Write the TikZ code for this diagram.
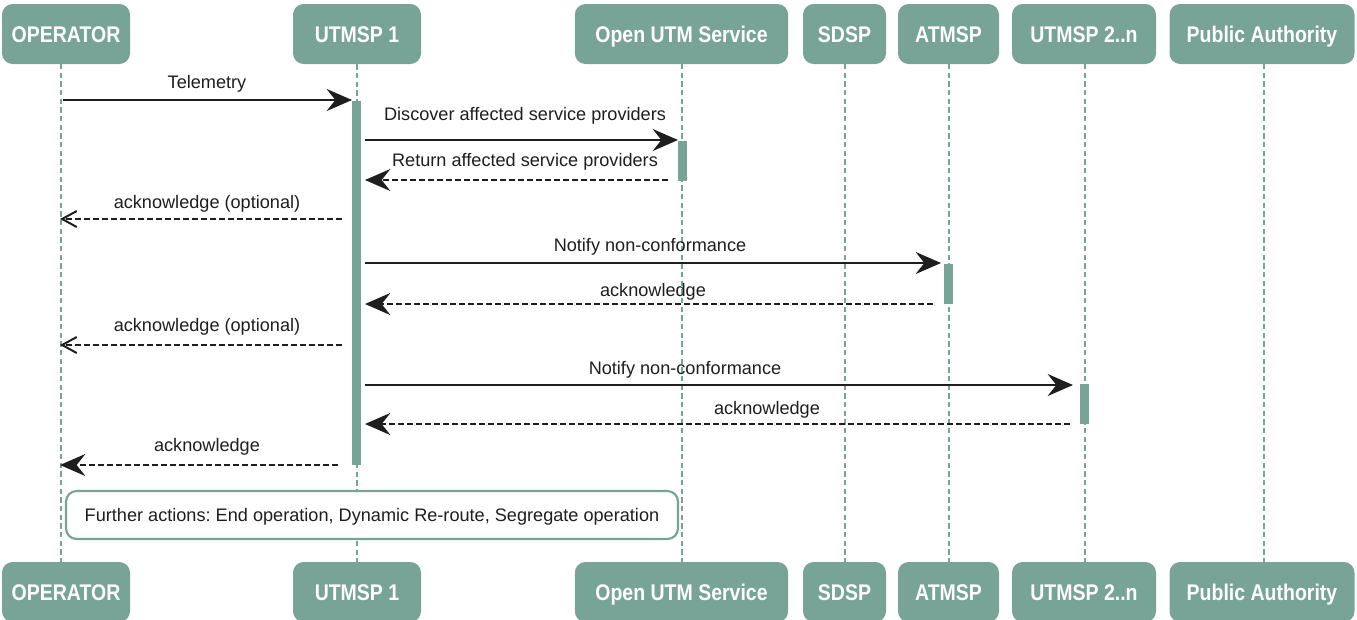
\documentclass[tikz,border=0pt]{standalone}
\usepackage{fontspec}
\setmainfont{Liberation Sans}
\newfontfamily\hdrfont[FakeStretch=0.86]{Liberation Sans}
\usetikzlibrary{arrows.meta}
\definecolor{sage}{RGB}{120,164,151}
\definecolor{ink}{RGB}{30,30,30}
\begin{document}
\frenchspacing
\begin{tikzpicture}[x=0.75pt,y=-0.75pt,
  actor/.style={fill=sage, rounded corners=8pt, text=white, inner sep=0pt,
    minimum height=45pt, text height=12pt, text depth=0pt,
    font=\hdrfont\bfseries\fontsize{17}{20}\selectfont},
  lifeline/.style={sage, line width=1.6pt, dash pattern=on 4pt off 2.5pt},
  actbar/.style={fill=sage, draw=none, minimum width=6.75pt, inner sep=0pt},
  msg/.style={ink, line width=1.5pt, -{Stealth[length=19pt,width=16.5pt,inset=6.5pt]}},
  reply/.style={msg, dash pattern=on 4.5pt off 2.25pt},
  optreply/.style={ink, line width=1.5pt, dash pattern=on 4.5pt off 2.25pt,
    -{Straight Barb[length=11pt,width=12pt,line width=1.5pt]}},
  lbl/.style={text=ink, inner sep=0pt, anchor=base, font=\fontsize{13.6}{16}\selectfont},
  notebox/.style={draw=sage, line width=1.6pt, fill=white, rounded corners=8pt,
    inner sep=0pt, text height=10pt, text depth=0pt,
    font=\fontsize{13.6}{16}\selectfont, text=ink}]

\useasboundingbox (0,0) rectangle (1357,619);

% participant heads
\node[actor, minimum width=96pt]    (opT)  at (66,34)    {OPERATOR};
\node[actor, minimum width=96pt]    (u1T)  at (357,34)   {UTMSP 1};
\node[actor, minimum width=160pt]   (ouT)  at (681.5,34) {Open UTM Service};
\node[actor, minimum width=62.25pt] (sdT)  at (844.5,34) {SDSP};
\node[actor, minimum width=75.75pt] (atT)  at (948.5,34) {ATMSP};
\node[actor, minimum width=108pt]   (u2T)  at (1084,34)  {UTMSP 2..n};
\node[actor, minimum width=138.75pt](paT)  at (1262,34)  {Public Authority};

% participant feet
\node[actor, minimum width=96pt]    (opB)  at (66,592)    {OPERATOR};
\node[actor, minimum width=96pt]    (u1B)  at (357,592)   {UTMSP 1};
\node[actor, minimum width=160pt]   (ouB)  at (681.5,592) {Open UTM Service};
\node[actor, minimum width=62.25pt] (sdB)  at (844.5,592) {SDSP};
\node[actor, minimum width=75.75pt] (atB)  at (948.5,592) {ATMSP};
\node[actor, minimum width=108pt]   (u2B)  at (1084,592)  {UTMSP 2..n};
\node[actor, minimum width=138.75pt](paB)  at (1262,592)  {Public Authority};

% lifelines
\coordinate (opL1) at (61,64);  \coordinate (opL2) at (61,562);
\draw[lifeline] (opL1) -- (opL2);
\draw[lifeline] (u1T.south) -- (u1B.north);
\draw[lifeline] (682,64) -- (682,562);
\draw[lifeline] (845,64) -- (845,562);
\draw[lifeline] (949,64) -- (949,562);
\draw[lifeline] (1085,64) -- (1085,562);
\draw[lifeline] (1264,64) -- (1264,562);

% activation bars
\node[actbar, minimum height=273pt, anchor=north] (b1) at (356.5,101) {};
\node[actbar, minimum height=30pt,  anchor=north] (b2) at (682.5,141) {};
\node[actbar, minimum height=30pt,  anchor=north] (b3) at (948.5,264) {};
\node[actbar, minimum height=30pt,  anchor=north] (b4) at (1084.5,384) {};

% message end points
\coordinate (m1a) at (63,100);   \coordinate (m1b) at (352,100);
\coordinate (m2a) at (365,140);  \coordinate (m2b) at (678,140);
\coordinate (m3a) at (668,180);  \coordinate (m3b) at (365,180);
\coordinate (m4a) at (342,219);  \coordinate (m4b) at (60,219);
\coordinate (m5a) at (365,263);  \coordinate (m5b) at (941,263);
\coordinate (m6a) at (933,304);  \coordinate (m6b) at (365,304);
\coordinate (m7a) at (342,345);  \coordinate (m7b) at (60,345);
\coordinate (m8a) at (365,385);  \coordinate (m8b) at (1073,385);
\coordinate (m9a) at (1070,424); \coordinate (m9b) at (365,424);
\coordinate (m10a) at (338,465); \coordinate (m10b) at (60,465);

% messages
\draw[msg]      (m1a) -- (m1b);
\draw[msg]      (m2a) -- (m2b);
\draw[reply]    (m3a) -- (m3b);
\draw[optreply] (m4a) -- (m4b);
\draw[msg]      (m5a) -- (m5b);
\draw[reply]    (m6a) -- (m6b);
\draw[optreply] (m7a) -- (m7b);
\draw[msg]      (m8a) -- (m8b);
\draw[reply]    (m9a) -- (m9b);
\draw[reply]    (m10a) -- (m10b);

% message labels (placed on their baselines)
\node[lbl] (t1)  at (207,88)  {Telemetry};
\node[lbl] (t2)  at (525,120) {Discover affected service providers};
\node[lbl] (t3)  at (525,166) {Return affected service providers};
\node[lbl] (t4)  at (207,208) {acknowledge (optional)};
\node[lbl] (t5)  at (650,251) {Notify non-conformance};
\node[lbl] (t6)  at (653,296) {acknowledge};
\node[lbl] (t7)  at (207,331) {acknowledge (optional)};
\node[lbl] (t8)  at (685,374) {Notify non-conformance};
\node[lbl] (t9)  at (767,414) {acknowledge};
\node[lbl] (t10) at (207,451) {acknowledge};

% note
\node[notebox, minimum width=459pt, minimum height=36pt] (note) at (372,515)
  {Further actions: End operation, Dynamic Re-route, Segregate operation};
\end{tikzpicture}
\end{document}
